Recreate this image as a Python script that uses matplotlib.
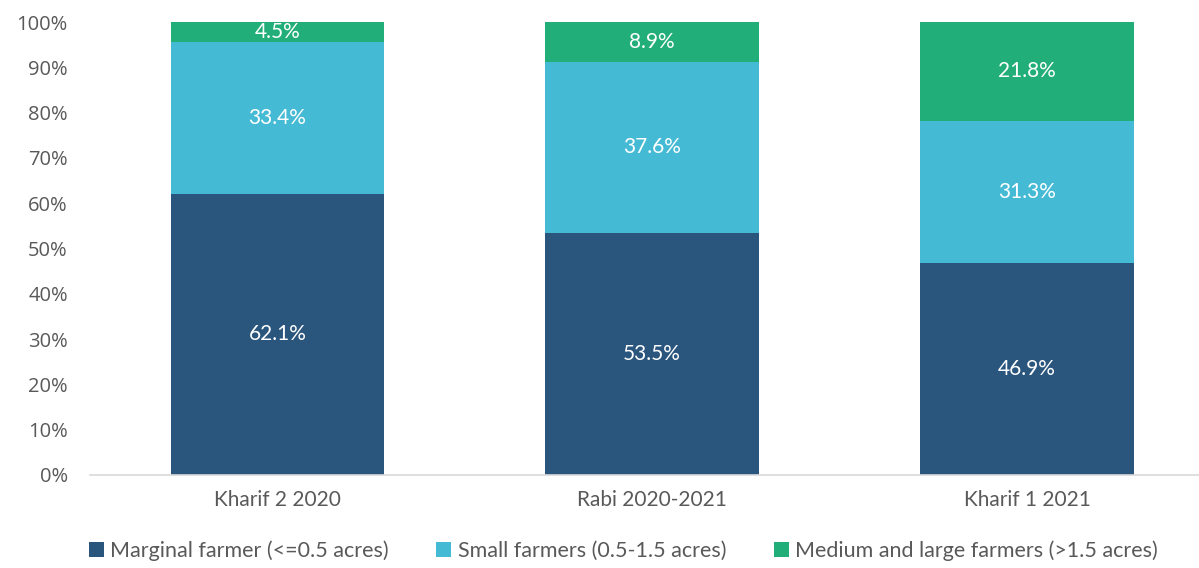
import numpy as np
import matplotlib.pyplot as plt
from matplotlib.ticker import PercentFormatter

categories = ['Kharif 2 2020', 'Rabi 2020-2021', 'Kharif 1 2021']
marginal = [62.1, 53.5, 46.9]
small = [33.4, 37.6, 31.3]
medium_large = [4.5, 8.9, 21.8]
series_names = ['Marginal farmer (<=0.5 acres)',
                'Small farmers (0.5-1.5 acres)',
                'Medium and large farmers (>1.5 acres)']
colors = ['#2a557d', '#45bad4', '#22ae78']

plt.rcParams['font.family'] = ['Lato', 'DejaVu Sans']

fig = plt.figure(figsize=(11.99, 5.68), dpi=100)
ax = fig.add_axes([90 / 1199, 1 - 475 / 568, 1 - 90 / 1199, (475 - 22) / 568])

x = np.arange(len(categories))
width = 0.57
bottom = np.zeros(len(categories))
for vals, name, col in zip([marginal, small, medium_large], series_names, colors):
    vals = np.array(vals)
    ax.bar(x, vals, width, bottom=bottom, color=col, label=name)
    for xi, b, v in zip(x, bottom, vals):
        ax.text(xi, b + v / 2, '{0:.1f}%'.format(v), ha='center', va='center',
                color='white', fontsize=15)
    bottom = bottom + vals

ax.set_ylim(0, 100)
ax.set_xlim(-0.5, 2.459)
ax.set_yticks(np.arange(0, 101, 10))
ax.yaxis.set_major_formatter(PercentFormatter(decimals=0))
ax.set_xticks(x)
ax.set_xticklabels(categories, fontsize=15)
for lab in ax.get_yticklabels():
    lab.set_family(['Open Sans', 'DejaVu Sans'])
    lab.set_fontsize(14.5)
for s in ['top', 'right', 'left']:
    ax.spines[s].set_visible(False)
ax.spines['bottom'].set_color('#d9d9d9')
ax.spines['bottom'].set_linewidth(1.2)
ax.tick_params(axis='both', length=0, colors='#595959')
ax.tick_params(axis='x', pad=11)
ax.tick_params(axis='y', pad=16)

leg = fig.legend(loc='lower center', bbox_to_anchor=(0.52, -0.022), ncol=3,
                 frameon=False, fontsize=15.5, handlelength=0.7, handleheight=0.7,
                 handletextpad=0.3, columnspacing=2.2)
for t in leg.get_texts():
    t.set_color('#595959')

fig.savefig('out.png', dpi=100)
